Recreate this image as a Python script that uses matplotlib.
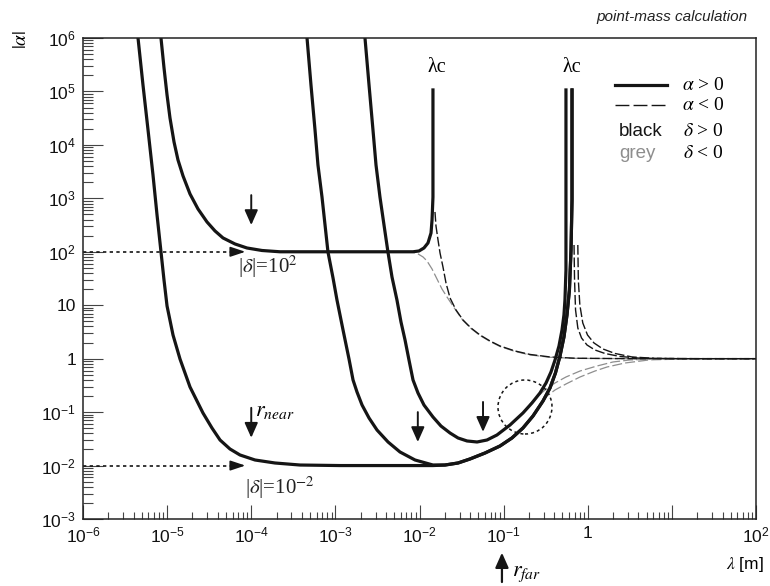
import numpy as np
import matplotlib
matplotlib.use('Agg')
import matplotlib.pyplot as plt
from matplotlib.lines import Line2D
from matplotlib.patches import Circle
from matplotlib.ticker import FuncFormatter, FixedLocator, NullFormatter

plt.rcParams['font.family'] = ['Liberation Sans', 'DejaVu Sans']
plt.rcParams['mathtext.fontset'] = 'stix'

# curves, as log10(lambda [m]) and log10(|alpha|)

# |delta| = 1e-2 curve, down to the 1e-2 plateau
a_lam = [-5.346, -5.287, -5.227, -5.168, -5.120, -5.073, -5.037, -5.001, -4.930, -4.847, -4.728,
         -4.574, -4.467, -4.371, -4.253, -4.134, -3.955, -3.718, -3.420, -2.945, -1.840]
a_alp = [6.0, 5.121, 4.279, 3.437, 2.689, 2.0, 1.47, 0.986, 0.443, -0.006, -0.530,
         -1.016, -1.297, -1.522, -1.690, -1.802, -1.896, -1.952, -1.990, -2.0, -2.0]
# rising branch shared by a and c, up to lambda_c
rise_lam = [-1.697, -1.542, -1.400, -1.221, -1.043, -0.901, -0.770, -0.651, -0.532, -0.449,
            -0.384, -0.330, -0.283, -0.247, -0.218, -0.199, -0.187, -0.187]
rise_alp = [-1.99, -1.952, -1.877, -1.765, -1.634, -1.484, -1.297, -1.073, -0.792, -0.549,
            -0.268, 0.05, 0.406, 0.817, 1.285, 2.03, 2.97, 5.028]
# |delta| = 1e2 curve
b_lam = [-5.073, -5.037, -5.001, -4.966, -4.918, -4.871, -4.811, -4.728, -4.633, -4.526, -4.431,
         -4.336, -4.193, -4.051, -3.872, -3.658, -2.077, -2.006, -1.947, -1.899, -1.863, -1.851,
         -1.840, -1.840]
b_alp = [6.0, 5.44, 4.934, 4.504, 4.055, 3.719, 3.419, 3.082, 2.801, 2.558, 2.390,
         2.259, 2.146, 2.071, 2.024, 2.0, 2.0, 2.015, 2.071, 2.165, 2.352, 2.595,
         3.025, 5.028]
c_lam = [-3.337, -3.290, -3.242, -3.207, -3.159, -3.123, -3.088, -3.028, -2.981, -2.909, -2.838,
         -2.790, -2.743, -2.683, -2.600, -2.505, -2.374, -2.232, -2.053, -1.840]
c_alp = [6.0, 5.121, 4.279, 3.624, 3.025, 2.502, 1.996, 1.510, 1.098, 0.537, -0.006,
         -0.399, -0.623, -0.867, -1.110, -1.335, -1.559, -1.746, -1.896, -1.990]
d_lam = [-2.648, -2.600, -2.553, -2.517, -2.470, -2.422, -2.375, -2.327, -2.268, -2.220, -2.172,
         -2.125, -2.077, -2.018, -1.947, -1.840, -1.745, -1.637, -1.542, -1.435, -1.316, -1.198,
         -1.079, -0.924, -0.770, -0.663, -0.568, -0.496, -0.437, -0.389, -0.342, -0.306, -0.283,
         -0.271, -0.259, -0.259, -0.259]
d_alp = [6.0, 5.121, 4.279, 3.624, 3.025, 2.502, 1.996, 1.528, 1.098, 0.686, 0.350,
         -0.025, -0.399, -0.642, -0.867, -1.091, -1.260, -1.391, -1.484, -1.540, -1.559, -1.522,
         -1.428, -1.241, -1.016, -0.829, -0.642, -0.455, -0.249, -0.025, 0.237, 0.537, 0.817,
         1.098, 1.659, 2.969, 5.028]

# alpha < 0 branches (black dashed)
e1_lam = [-1.816, -1.804, -1.780, -1.756, -1.721, -1.685, -1.637, -1.566, -1.483, -1.388, -1.281,
          -1.162, -1.043, -0.865, -0.687, -0.449, -0.152, 0.502, 2.0]
e1_alp = [2.745, 2.483, 2.221, 1.978, 1.716, 1.416, 1.136, 0.911, 0.724, 0.574, 0.443,
          0.331, 0.237, 0.144, 0.079, 0.032, 0.008, 0.0, 0.0]
e2_lam = [-0.163, -0.157, -0.145, -0.118, -0.074, -0.009, 0.086, 0.205, 0.383, 0.621, 1.097, 2.0]
e2_alp = [2.127, 1.472, 0.911, 0.574, 0.387, 0.256, 0.162, 0.097, 0.041, 0.009, 0.0, 0.0]
e3_lam = [-0.118, -0.112, -0.094, -0.059, -0.003, 0.074, 0.181, 0.324, 0.526, 0.799, 1.334, 2.0]
e3_alp = [2.127, 1.472, 1.005, 0.668, 0.443, 0.294, 0.181, 0.097, 0.032, 0.006, 0.0, 0.0]

# delta < 0 branches (grey dashed)
g1_lam = [-2.172, -2.077, -2.017, -1.958, -1.911, -1.851, -1.792, -1.733, -1.673, -1.566, -1.483,
          -1.388, -1.281, -1.162, -1.043, -0.865, -0.687, -0.449, -0.152, 0.502, 2.0]
g1_alp = [2.0, 1.99, 1.959, 1.903, 1.828, 1.678, 1.491, 1.304, 1.154, 0.90, 0.714,
          0.565, 0.434, 0.322, 0.228, 0.135, 0.07, 0.026, 0.006, 0.0, 0.0]
g2_lam = [-0.687, -0.603, -0.508, -0.389, -0.259, -0.092, 0.110, 0.300, 0.502, 0.859, 2.0]
g2_alp = [-0.848, -0.717, -0.586, -0.455, -0.343, -0.231, -0.137, -0.062, -0.024, -0.007, 0.0]
g3_lam = [-0.615, -0.556, -0.484, -0.389, -0.259, -0.092, 0.086, 0.229, 0.443, 0.740, 1.215, 2.0]
g3_alp = [-0.998, -0.848, -0.698, -0.586, -0.474, -0.343, -0.231, -0.156, -0.081, -0.022, -0.004, 0.0]

W, H = 770, 586


def P(v):
    return 10.0 ** np.asarray(v)


def fx(px):
    return px / W


def fy(py):
    return 1 - py / H


fig = plt.figure(figsize=(W / 100, H / 100), dpi=100)
ax = fig.add_axes([83 / W, 67 / H, 673 / W, 481 / H])
ax.set_xscale('log')
ax.set_yscale('log')
ax.set_xlim(1e-6, 1e2)
ax.set_ylim(1e-3, 1e6)

BLACK = '#151515'
GREY = '#8e8e8e'

for lam, alp in [(g1_lam, g1_alp), (g2_lam, g2_alp), (g3_lam, g3_alp)]:
    ax.plot(P(lam), P(alp), color=GREY, lw=0.9, dashes=(8, 2.5))
for lam, alp in [(e1_lam, e1_alp), (e2_lam, e2_alp), (e3_lam, e3_alp)]:
    ax.plot(P(lam), P(alp), color=BLACK, lw=1.0, dashes=(7, 2))

for lam, alp in [(a_lam + rise_lam, a_alp + rise_alp), (b_lam, b_alp),
                 (c_lam + rise_lam, c_alp + rise_alp), (d_lam, d_alp)]:
    ax.plot(P(lam), P(alp), color=BLACK, lw=2.3, solid_joinstyle='round')

# axes styling
for s in ax.spines.values():
    s.set_linewidth(1.1)
    s.set_color('#222222')
xdec = np.arange(-6, 3)
ydec = np.arange(-3, 7)
ax.xaxis.set_major_locator(FixedLocator(10.0 ** xdec))
ax.yaxis.set_major_locator(FixedLocator(10.0 ** ydec))
ax.xaxis.set_minor_locator(FixedLocator([k * 10.0 ** e for e in xdec[:-1] for k in range(2, 10)]))
ax.yaxis.set_minor_locator(FixedLocator([k * 10.0 ** e for e in ydec[:-1] for k in range(2, 10)]))
ax.xaxis.set_minor_formatter(NullFormatter())
ax.yaxis.set_minor_formatter(NullFormatter())


def xfmt(v, pos):
    e = int(round(np.log10(v)))
    if e == 0:
        return '1'
    if e == 1:
        return ''
    return r'$\mathdefault{10^{%d}}$' % e


def yfmt(v, pos):
    e = int(round(np.log10(v)))
    if e == 0:
        return '1'
    if e == 1:
        return '10'
    return r'$\mathdefault{10^{%d}}$' % e


ax.xaxis.set_major_formatter(FuncFormatter(xfmt))
ax.yaxis.set_major_formatter(FuncFormatter(yfmt))
ax.tick_params(which='both', direction='in', top=False, right=False, color='#444444', width=0.8,
               labelsize=12.5, labelcolor='#111111')
ax.tick_params(axis='x', which='major', length=10, pad=5)
ax.tick_params(axis='x', which='minor', length=5)
ax.tick_params(axis='y', which='major', length=14.5, pad=5)
ax.tick_params(axis='y', which='minor', length=7)

# labels
fig.text(fx(22), fy(39), r'$|\alpha|$', rotation=90, ha='center', va='center', fontsize=14)
fig.text(fx(745), fy(565), r'$\lambda$ [m]', ha='center', va='center', fontsize=12.5)
fig.text(fx(748), fy(21), 'point-mass calculation', ha='right', va='baseline',
         fontsize=11, style='italic', color='#222222')

for lc in (-1.792, -0.187):
    ax.text(10 ** lc, 10 ** 5.45, 'λc', ha='center', va='center', fontsize=14.5,
            family='Liberation Serif')

ax.text(10 ** -4.157, 10 ** 1.716, r'|$\delta$|=10$^2$', ha='left', va='center', fontsize=15,
        family='Liberation Serif', color='#222222')
ax.text(10 ** -4.074, 10 ** -2.42, r'|$\delta$|=10$^{-2}$', ha='left', va='center', fontsize=15,
        family='Liberation Serif', color='#222222')

# dotted arrows marking |delta|
for lev in (1e2, 1e-2):
    ax.plot([1e-6, 10 ** -4.2], [lev, lev], color=BLACK, lw=1.2, dashes=(2, 2))
    ax.annotate('', xy=(10 ** -4.07, lev), xytext=(10 ** -4.22, lev),
                arrowprops=dict(arrowstyle='-|>,head_length=0.9,head_width=0.3', color=BLACK,
                                lw=1.2, shrinkA=0, shrinkB=0))

# solid down arrows
arr_x = [-4.0, -4.0, -2.02, -1.245]
arr_top = [3.06, -0.92, -1.0, -0.81]
arr_tip = [2.50, -1.48, -1.56, -1.37]
for x, t0, t1 in zip(arr_x, arr_top, arr_tip):
    ax.annotate('', xy=(10 ** x, 10 ** t1), xytext=(10 ** x, 10 ** t0),
                arrowprops=dict(arrowstyle='-|>,head_length=0.9,head_width=0.4', color=BLACK,
                                lw=1.4, shrinkA=0, shrinkB=0))
ax.text(10 ** -3.96, 10 ** -0.97, r'$r_{near}$', ha='left', va='center', fontsize=16)

# r_far arrow below the axis
ax.annotate('', xy=(10 ** -1.02, -0.07), xytext=(10 ** -1.02, -0.131),
            xycoords=('data', 'axes fraction'), textcoords=('data', 'axes fraction'),
            annotation_clip=False,
            arrowprops=dict(arrowstyle='-|>,head_length=0.9,head_width=0.4', color=BLACK,
                            lw=1.6, shrinkA=0, shrinkB=0))
fig.text(fx(512), fy(574), r'$r_{far}$', ha='left', va='center', fontsize=16)

# dotted circle
fig.add_artist(Circle((525 / 100, (H - 407) / 100), 0.27, transform=fig.dpi_scale_trans,
                      fill=False, lw=1.1, ls=(0, (2, 2)), color=BLACK))

# legend drawn by hand
fig.add_artist(Line2D([fx(615), fx(667)], [fy(85), fy(85)], color=BLACK, lw=2.3))
fig.add_artist(Line2D([fx(615), fx(667)], [fy(105), fy(105)], color=BLACK, lw=1.0, dashes=(10, 3)))
fig.text(fx(682), fy(85), r'$\alpha$ > 0', ha='left', va='center', fontsize=14,
         family='Liberation Serif')
fig.text(fx(682), fy(105), r'$\alpha$ < 0', ha='left', va='center', fontsize=14,
         family='Liberation Serif')
fig.text(fx(619), fy(131), 'black', ha='left', va='center', fontsize=13.5, color=BLACK)
fig.text(fx(619), fy(154), 'grey', ha='left', va='center', fontsize=13.5, color=GREY)
fig.text(fx(683), fy(131), r'$\delta$ > 0', ha='left', va='center', fontsize=14,
         family='Liberation Serif')
fig.text(fx(683), fy(154), r'$\delta$ < 0', ha='left', va='center', fontsize=14,
         family='Liberation Serif')

fig.savefig('out.png', dpi=100)
